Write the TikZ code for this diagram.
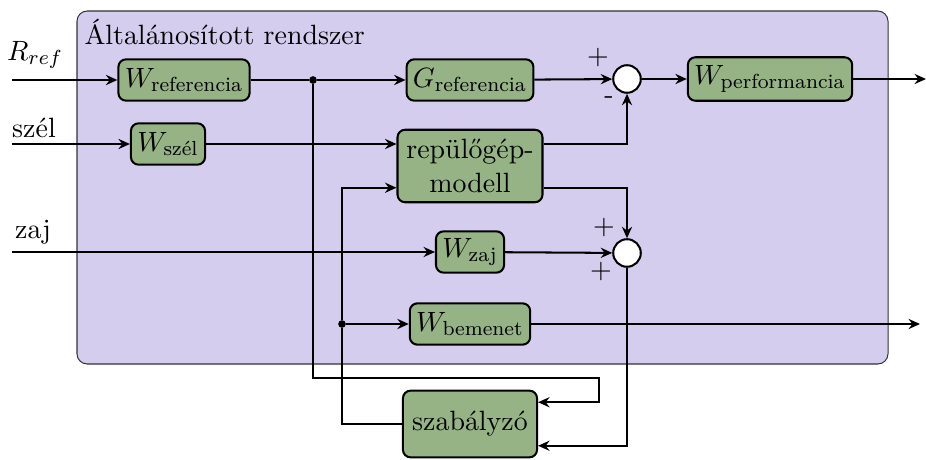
\documentclass[tikz,border=0pt,11pt]{standalone}
\usepackage{amsmath}
\usetikzlibrary{positioning, arrows.meta}

\definecolor{boxgreen}{RGB}{150,179,134}
\definecolor{sysviolet}{RGB}{212,205,238}

\tikzset{
    block/.style={draw, thick, rounded corners=3pt, fill=boxgreen, minimum height=0.57cm, inner sep=2.5pt},
    sumnode/.style={draw, thick, circle, fill=white, minimum size=0.38cm, inner sep=0pt},
    wire/.style={thick, ->, >={Stealth[length=4.5pt, width=4pt, inset=1.5pt]}},
    dot/.style={circle, fill=black, inner sep=0pt, minimum size=3pt}
}

\begin{document}
\begin{tikzpicture}[x=0.01379cm, y=-0.01379cm]
    \useasboundingbox (0,0) rectangle (926,460);

    % Generalized system
    \draw[rounded corners=4pt, fill=sysviolet, draw=black!80] (77,11) rectangle (888,364);
    \node[anchor=north west, inner sep=0pt] (title) at (84,19) {Általánosított rendszer};

    % Blocks
    \node[block] (wref) at (184,80) {$W_{\text{referencia}}$};
    \node[block] (gref) at (470,80) {$G_{\text{referencia}}$};
    \node[sumnode] (sum1) at (627,79) {};
    \node[block, minimum height=0.6cm] (wperf) at (770,79) {$W_{\text{performancia}}$};
    \node[block] (wszel) at (168,144) {$W_{\text{szél}}$};
    \node[block, align=center, minimum width=2cm, minimum height=1cm] (modell) at (470,166) {repülőgép-\\modell};
    \node[block] (wzaj) at (470,252) {$W_{\text{zaj}}$};
    \node[sumnode] (sum2) at (627,253) {};
    \node[block] (wbem) at (470,324) {$W_{\text{bemenet}}$};
    \node[block, minimum width=1.85cm, minimum height=0.92cm] (szab) at (470,424) {szabályzó};

    % Inputs and outputs
    \coordinate (rin) at (12,80);
    \coordinate (szin) at (12,144);
    \coordinate (zin) at (12,252);
    \coordinate (perfout) at (926,79);
    \coordinate (bemout) at (920,324);
    \node (rlabel) at (35,55) {$R_{ref}$};
    \node (szlabel) at (34,128) {szél};
    \node (zlabel) at (33,232) {zaj};

    % Branch points
    \node[dot] (dot1) at (313,80) {};
    \node[dot] (dot2) at (342,324) {};
    \coordinate (loop1) at (599,378);

    % Signs
    \node (plus1) at (598,58) {$+$};
    \node (minus1) at (609,100) {-};
    \node (plus2) at (604,228) {$+$};
    \node (plus3) at (601,272) {$+$};

    % Connections
    \draw[wire] (rin) -- (wref);
    \draw[wire] (wref) -- (dot1) -- (gref);
    \draw[wire] (gref) -- (sum1);
    \draw[wire] (sum1) -- (wperf);
    \draw[wire] (wperf) -- (perfout);
    \draw[wire] (szin) -- (wszel);
    \draw[wire] (wszel.east) -- (wszel.east -| modell.west);
    \draw[wire] ([yshift=0.3cm]modell.east) -| (sum1.south);
    \draw[wire] ([yshift=-0.3cm]modell.east) -| (sum2.north);
    \draw[wire] (zin) -- (wzaj);
    \draw[wire] (wzaj) -- (sum2);
    \draw[wire] (sum2.south) |- ([yshift=-0.3cm]szab.east);
    \draw[wire] (dot1) |- (loop1) |- ([yshift=0.3cm]szab.east);
    \draw[wire] (szab.west) -| (dot2) |- ([yshift=-0.3cm]modell.west);
    \draw[wire] (dot2) -- (wbem);
    \draw[wire] (wbem) -- (bemout);
\end{tikzpicture}
\end{document}
